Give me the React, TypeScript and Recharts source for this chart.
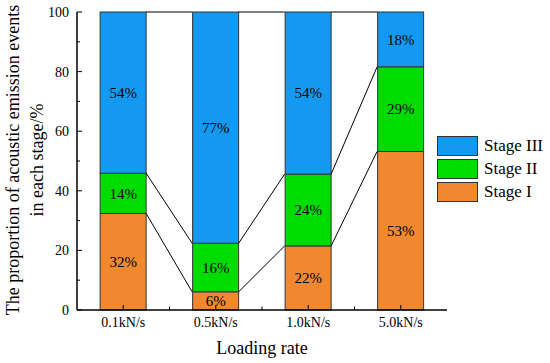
import { BarChart, Bar, XAxis, YAxis, Legend, LabelList } from "recharts";

// loading rates on the x axis
const rates = ["0.1kN/s", "0.5kN/s", "1.0kN/s", "5.0kN/s"];

// share of AE events per stage (%)
const stageI = [32.4, 6.1, 21.5, 53.2];
const stageII = [13.5, 16.3, 24.1, 28.4];
const stageIII = [54.1, 77.6, 54.4, 18.4];

// printed labels inside the bars
const labelsI = ["32%", "6%", "22%", "53%"];
const labelsII = ["14%", "16%", "24%", "29%"];
const labelsIII = ["54%", "77%", "54%", "18%"];

const yTicks = [0, 10, 20, 30, 40, 50, 60, 70, 80, 90, 100];

const BLUE = "#1499F0";
const GREEN = "#00DC00";
const ORANGE = "#F08830";
const FONT = '"Liberation Serif", "Times New Roman", serif';
const GAP = 0.25;

const data = rates.map((rate, i) => ({
  rate,
  stageI: stageI[i],
  stageII: stageII[i],
  stageIII: stageIII[i],
  labelI: labelsI[i],
  labelII: labelsII[i],
  labelIII: labelsIII[i],
}));

const legendItems = [
  { name: "Stage III", color: BLUE },
  { name: "Stage II", color: GREEN },
  { name: "Stage I", color: ORANGE },
];

// top bar segment, also draws the lines joining the stage boundaries to the next bar
const LinkedBar = (props: any) => {
  const { x, y, width, height, index, fill } = props;
  const i = index;
  const k = height / stageIII[i];
  const cum = (j: number) => [
    stageI[j],
    stageI[j] + stageII[j],
    stageI[j] + stageII[j] + stageIII[j],
  ];
  const top = cum(i)[2];
  const py = (v: number) => y + (top - v) * k;
  const step = width / (1 - 2 * GAP);
  const links: any[] = [];
  if (i < rates.length - 1) {
    const a = cum(i);
    const b = cum(i + 1);
    a.forEach((v, j) =>
      links.push(
        <line
          key={j}
          x1={x + width}
          y1={py(v)}
          x2={x + step}
          y2={py(b[j])}
          stroke="#000"
          strokeWidth={1}
        />
      )
    );
  }
  return (
    <g>
      <rect x={x} y={y} width={width} height={height} fill={fill} stroke="#333" strokeWidth={1} />
      {links}
    </g>
  );
};

const XTick = (props: any) => {
  const { x, y, payload, index, visibleTicksCount } = props;
  return (
    <g>
      <line x1={x} y1={y} x2={x} y2={y - 5} stroke="#000" />
      {index < visibleTicksCount - 1 && payload.offset ? (
        <line x1={x + payload.offset} y1={y} x2={x + payload.offset} y2={y - 3.5} stroke="#000" />
      ) : null}
      <text
        x={x}
        y={y + 17}
        textAnchor="middle"
        fontSize={14}
        fontFamily={FONT}
        style={{ fontFamily: FONT }}
        fill="#000"
      >
        {payload.value}
      </text>
    </g>
  );
};

const YTick = (props: any) => {
  const { x, y, payload } = props;
  const major = payload.value % 20 === 0;
  return (
    <g>
      <line x1={x} y1={y} x2={x + (major ? 5 : 3)} y2={y} stroke="#000" />
      {major ? (
        <text
          x={x - 8}
          y={y}
          dy={5}
          textAnchor="end"
          fontSize={14}
          fontFamily={FONT}
          style={{ fontFamily: FONT }}
          fill="#000"
        >
          {payload.value}
        </text>
      ) : null}
    </g>
  );
};

const YLabel = () => {
  const cy = 160;
  const lines = [
    { text: "The proportion of acoustic emission events", bx: 19 },
    { text: "in each stage/%", bx: 43 },
  ];
  return (
    <g>
      {lines.map((l) => (
        <text
          key={l.text}
          x={l.bx}
          y={cy}
          transform={`rotate(-90, ${l.bx}, ${cy})`}
          textAnchor="middle"
          fontSize={18}
          fontFamily={FONT}
          style={{ fontFamily: FONT }}
          fill="#000"
        >
          {l.text}
        </text>
      ))}
    </g>
  );
};

const XLabel = (props: any) => {
  const vb = props.viewBox;
  return (
    <text
      x={vb.x + vb.width / 2}
      y={354}
      textAnchor="middle"
      fontSize={18}
      fontFamily={FONT}
      style={{ fontFamily: FONT }}
      fill="#000"
    >
      Loading rate
    </text>
  );
};

const CustomLegend = () => (
  <div style={{ fontFamily: FONT, fontSize: 17, color: "#000" }}>
    {legendItems.map((item) => (
      <div key={item.name} style={{ display: "flex", alignItems: "center", height: 20, marginBottom: 2.8 }}>
        <div
          style={{
            width: 41,
            height: 20,
            boxSizing: "border-box",
            border: "1px solid #333",
            backgroundColor: item.color,
            marginRight: 6,
          }}
        />
        <span style={{ lineHeight: "20px" }}>{item.name}</span>
      </div>
    ))}
  </div>
);

const labelStyle = { fontSize: 15, fontFamily: FONT, fill: "#000" };

export default function App() {
  return (
    <div style={{ position: "absolute", left: 0, top: 0, width: 550, height: 363, background: "#fff" }}>
      <BarChart
        width={550}
        height={363}
        data={data}
        margin={{ top: 12, right: 103, bottom: 0, left: 0 }}
        barCategoryGap={`${GAP * 100}%`}
        style={{ fontFamily: FONT, overflow: "visible" }}
      >
        <XAxis
          dataKey="rate"
          height={53}
          tickLine={false}
          tickSize={0}
          tickMargin={0}
          tick={<XTick />}
          axisLine={{ stroke: "#000", strokeWidth: 1.5 }}
          label={<XLabel />}
        />
        <YAxis
          width={77}
          domain={[0, 100]}
          ticks={yTicks}
          interval={0}
          tickLine={false}
          tickSize={0}
          tickMargin={0}
          tick={<YTick />}
          axisLine={{ stroke: "#000", strokeWidth: 1.5 }}
          label={<YLabel />}
        />
        <Bar dataKey="stageI" stackId="a" fill={ORANGE} stroke="#333" strokeWidth={1} isAnimationActive={false}>
          <LabelList dataKey="labelI" position="center" fontSize={15} fontFamily={FONT} fill="#000" style={labelStyle} />
        </Bar>
        <Bar dataKey="stageII" stackId="a" fill={GREEN} stroke="#333" strokeWidth={1} isAnimationActive={false}>
          <LabelList dataKey="labelII" position="center" fontSize={15} fontFamily={FONT} fill="#000" style={labelStyle} />
        </Bar>
        <Bar dataKey="stageIII" stackId="a" fill={BLUE} shape={<LinkedBar />} isAnimationActive={false}>
          <LabelList dataKey="labelIII" position="center" fontSize={15} fontFamily={FONT} fill="#000" style={labelStyle} />
        </Bar>
        <Legend
          layout="vertical"
          align="center"
          verticalAlign="middle"
          wrapperStyle={{ left: 437, top: 136, width: 113 }}
          content={() => <CustomLegend />}
        />
      </BarChart>
    </div>
  );
}
